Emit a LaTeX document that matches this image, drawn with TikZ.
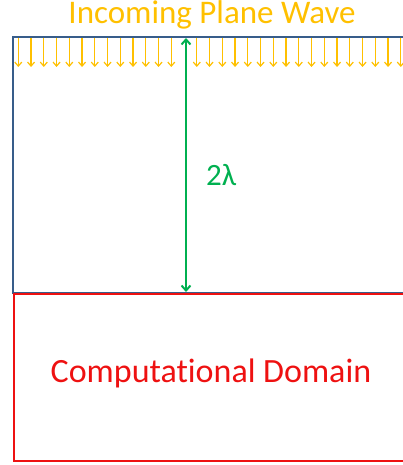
\documentclass[tikz,border=0pt]{standalone}
\usepackage{fontspec}
\setmainfont[Ligatures=NoCommon]{Carlito}
\usetikzlibrary{arrows.meta}
\definecolor{wavegold}{HTML}{FFC000}
\definecolor{frameblue}{HTML}{385D8A}
\definecolor{domred}{HTML}{EE1111}
\definecolor{distgreen}{HTML}{00B050}
\tikzset{
  wavearrow/.style={draw=wavegold, line width=1.2pt, -{Straight Barb[length=4pt,width=7pt,line width=1.2pt]}},
  distarrow/.style={draw=distgreen, line width=2pt, {Straight Barb[length=5pt,width=9pt]}-{Straight Barb[length=5pt,width=9pt]}},
  lbl/.style={inner sep=0pt, anchor=base},
}
\begin{document}
\begin{tikzpicture}[x=1pt,y=-1pt]
  \useasboundingbox (0,0) rectangle (403,465);
  \clip (0,0) rectangle (403,465);
  % free-space region above the domain
  \draw[frameblue, line width=2pt] (420,293) -- (13,293) -- (13,37) -- (420,37);
  % incoming wave arrows
  \foreach \i in {0,...,30} {
    \pgfmathsetmacro{\xx}{18.3+12.75*\i}
    \ifnum\i=13\relax\else
      \coordinate (w\i) at (\xx,38);
      \coordinate (v\i) at (\xx,67);
      \draw[wavearrow] (w\i) -- (v\i);
    \fi
  }
  % computational domain
  \node[draw=domred, line width=2.4pt, minimum width=420pt, minimum height=167pt, anchor=north west, inner sep=0pt] (dom) at (13,293) {};
  \node[lbl, text=domred, font=\fontsize{34}{38}\selectfont] (domtxt) at (211,382) {Computational Domain};
  % title
  \node[lbl, text=wavegold, font=\fontsize{33}{36}\selectfont] (title) at (212,24) {Incoming Plane Wave};
  % distance marker
  \coordinate (top) at (186,38);
  \coordinate (bot) at (186,292);
  \draw[distarrow] (bot) -- (top);
  \node[lbl, text=distgreen, font=\fontsize{31}{34}\selectfont, anchor=base west] (dist) at (206,185) {2λ};
\end{tikzpicture}
\end{document}
